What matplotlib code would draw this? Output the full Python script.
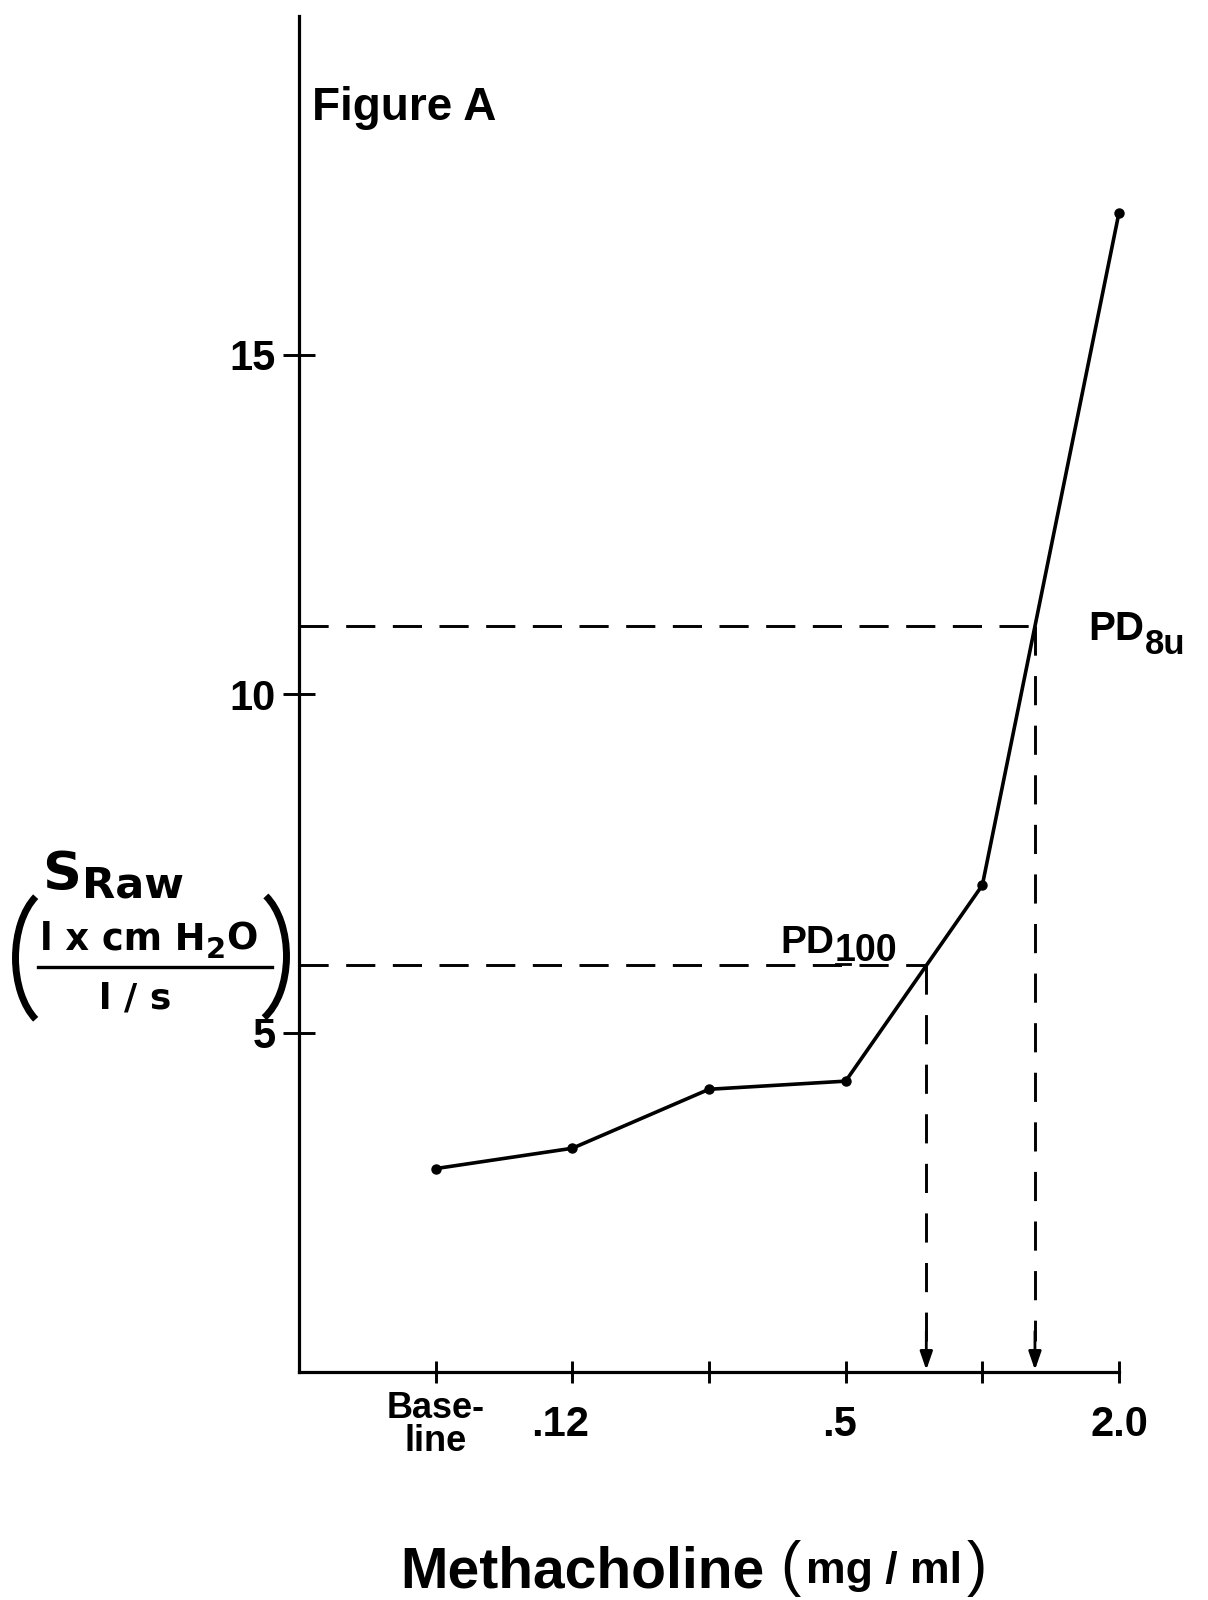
import matplotlib
matplotlib.use("Agg")
import matplotlib.pyplot as plt
from matplotlib import font_manager
from matplotlib.patches import Arc
from matplotlib.transforms import ScaledTranslation, Affine2D

# ---------------- data ----------------
dose_positions = [1, 2, 3, 4, 5, 6]
dose_labels = ["Base-\nline", ".12", "", ".5", "", "2.0"]
sraw_values = [3.0, 3.3, 4.17, 4.29, 7.18, 17.1]
y_ticks = [5, 10, 15]
y_tick_labels = ["5", "10", "15"]
pd_levels = [6.0, 11.0]        # PD100, PD8u SRaw levels
pd_doses = [4.59, 5.385]       # interpolated dose positions

W, H = 1208, 1600

def pick(*names):
    avail = {f.name for f in font_manager.fontManager.ttflist}
    for n in names:
        if n in avail:
            return n
    return "DejaVu Sans"

SANS = pick("Liberation Sans", "Arial", "DejaVu Sans")
WIDE = pick("DejaVu Sans")
NARROW = pick("Liberation Sans Narrow", "Liberation Sans")

fig = plt.figure(figsize=(W / 100, H / 100), dpi=100)
fig.patch.set_facecolor("white")

ax = fig.add_axes([299 / W, 1 - 1372 / H, (1119 - 299) / W, (1372 - 16) / H])
ax.set_xlim(0, 6)
ax.set_ylim(0, 20)
for s in ["top", "right"]:
    ax.spines[s].set_visible(False)
for s in ["left", "bottom"]:
    ax.spines[s].set_linewidth(2.3)
    ax.spines[s].set_color("black")

# main curve
ax.plot(dose_positions, sraw_values, color="black", lw=2.6, marker="o",
        markersize=6.5, solid_joinstyle="round", zorder=4, clip_on=False)

# PD dashed construction lines
for lvl, d in zip(pd_levels, pd_doses):
    ax.plot([0, d], [lvl, lvl], color="black", lw=2.1, dashes=(10, 6),
            zorder=3)
    ax.plot([d, d], [lvl, 0.45], color="black", lw=2.1, dashes=(10, 7),
            zorder=3)
    ax.annotate("", xy=(d, 0.03), xytext=(d, 0.6),
                arrowprops=dict(arrowstyle="-|>,head_length=1.1,head_width=0.38",
                                color="black", lw=2.0, shrinkA=0, shrinkB=0),
                zorder=5)

# ticks
ax.set_yticks(y_ticks)
ax.set_yticklabels(y_tick_labels)
ax.set_xticks(dose_positions)
ax.set_xticklabels(dose_labels)
ax.tick_params(axis="y", direction="inout", length=23, width=2.1, pad=5,
               labelsize=30, colors="black")
ax.tick_params(axis="x", direction="inout", length=16, width=2.1, pad=6,
               labelsize=30, colors="black")
for lab in ax.get_yticklabels():
    lab.set_fontfamily(NARROW)
    lab.set_fontweight("bold")
x_offsets = [(0, 0), (-12, -14), (0, 0), (-6, -14), (0, 0), (0, -14)]
for lab, (dx, dy) in zip(ax.get_xticklabels(), x_offsets):
    lab.set_fontfamily(NARROW)
    lab.set_fontweight("bold")
    lab.set_linespacing(0.92)
    lab.set_transform(lab.get_transform() +
                      ScaledTranslation(dx / 100, dy / 100, fig.dpi_scale_trans))
ax.get_xticklabels()[0].set_fontsize(26)

# ------------- free text helpers (pixel coords, origin top-left) -------------
renderer = fig.canvas.get_renderer()

def ftxt(x, y, s, size, family=SANS, weight="bold", ha="left", va="baseline"):
    return fig.text(x / W, 1 - y / H, s, fontsize=size, family=family,
                    fontweight=weight, ha=ha, va=va, color="black")

def seq(x, parts, gap=1):
    for s, size, y, fam, wt in parts:
        t = ftxt(x, y, s, size, family=fam, weight=wt)
        bb = t.get_window_extent(renderer)
        x += bb.width + gap
    return x

ftxt(312, 120, "Figure A", 33)

# y-axis label
seq(42, [("S", 39, 890, WIDE, "bold"), ("Raw", 31, 898, WIDE, "bold")], gap=1)
seq(40, [("l x cm H", 26.5, 949, WIDE, "bold"), ("2", 21, 958, WIDE, "bold"),
         ("O", 26.5, 949, WIDE, "bold")], gap=0)
ftxt(135, 1009, "l / s", 26, family=WIDE, ha="center")
fig.add_artist(plt.Line2D([38 / W, 272 / W], [1 - 967 / H, 1 - 967 / H],
                          color="black", lw=2.4))
pix = Affine2D().scale(1.0 / W, -1.0 / H).translate(0, 1) + fig.transFigure
fig.add_artist(Arc((58, 958), 85, 144, theta1=110, theta2=250, lw=5.0,
                   color="black", transform=pix))
fig.add_artist(Arc((244, 956), 85, 140, theta1=-70, theta2=72, lw=5.0,
                   color="black", transform=pix))

# x-axis label
xe = seq(400, [("Methacholine", 41, 1587, SANS, "bold")], gap=16)
xe = seq(xe, [("(", 44, 1584, SANS, "normal")], gap=5)
xe = seq(xe, [("mg / ml", 32, 1583, SANS, "bold")], gap=5)
seq(xe, [(")", 44, 1584, SANS, "normal")])

# PD labels
seq(780, [("PD", 28, 953, SANS, "bold"), ("100", 27, 961, NARROW, "bold")], gap=1)
fig.add_artist(plt.Line2D([836 / W, 850 / W], [1 - 964 / H, 1 - 964 / H],
                          color="black", lw=2.0))
seq(1088, [("PD", 29, 640, SANS, "bold"), ("8u", 25, 654, SANS, "bold")], gap=1)

fig.savefig("out.png", dpi=100, facecolor="white")
